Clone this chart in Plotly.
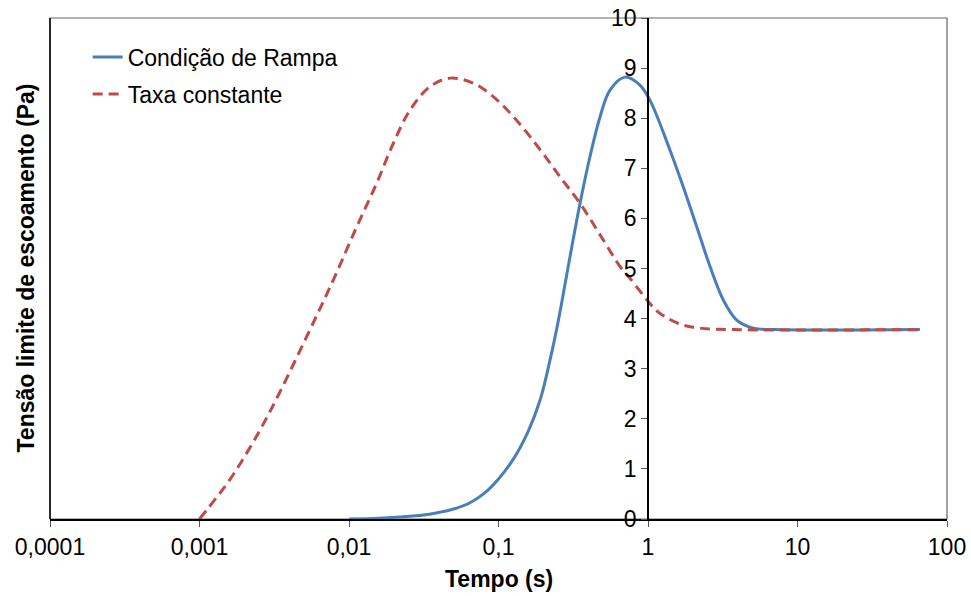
import plotly.graph_objects as go

# Data
tempo_rampa = [0.01, 0.0158, 0.0219, 0.0316, 0.0398, 0.0501, 0.0631, 0.0794, 0.100, 0.126,
               0.158, 0.190, 0.221, 0.251, 0.301, 0.351, 0.409, 0.478, 0.557, 0.701,
               0.883, 1.03, 1.40, 1.72, 2.12, 2.60, 3.19, 3.92, 5.07, 7.08, 65.9]
tensao_rampa = [0.0, 0.015, 0.04, 0.08, 0.13, 0.20, 0.31, 0.50, 0.80, 1.20,
                1.75, 2.38, 3.17, 3.95, 5.24, 6.30, 7.23, 8.03, 8.56, 8.82,
                8.66, 8.36, 7.37, 6.63, 5.83, 5.04, 4.37, 3.97, 3.81, 3.78, 3.78]

tempo_taxa = [0.001, 0.0013, 0.0016, 0.00218, 0.00304, 0.00521, 0.00785, 0.01125, 0.0153,
              0.0198, 0.0256, 0.0348, 0.0474, 0.0679, 0.0923, 0.132, 0.190, 0.258, 0.351,
              0.502, 0.650, 0.760, 1.03, 1.15, 1.33, 1.72, 2.23, 3.72, 65.9]
tensao_taxa = [0.0, 0.43, 0.79, 1.43, 2.21, 3.64, 4.77, 5.83, 6.70,
               7.50, 8.16, 8.63, 8.80, 8.70, 8.43, 7.96, 7.37, 6.83, 6.30,
               5.57, 5.04, 4.80, 4.30, 4.15, 4.02, 3.87, 3.81, 3.78, 3.78]

x_tickvals = [0.0001, 0.001, 0.01, 0.1, 1, 10, 100]
x_ticktext = ["0,0001", "0,001", "0,01", "0,1", "1", "10", "100"]
y_tickvals = [0, 1, 2, 3, 4, 5, 6, 7, 8, 9, 10]

series_names = ["Condição de Rampa", "Taxa constante"]
x_title = "Tempo (s)"
y_title = "Tensão limite de escoamento (Pa)"

FONT = "Liberation Sans, Arial, sans-serif"

fig = go.Figure()
fig.add_trace(go.Scatter(
    x=tempo_rampa, y=tensao_rampa, mode="lines", name=series_names[0],
    line=dict(color="#4A7EBB", width=3, shape="spline", smoothing=1.0),
    legendgroup="a"))
fig.add_trace(go.Scatter(
    x=tempo_taxa, y=tensao_taxa, mode="lines", name=series_names[1],
    line=dict(color="#BE4B48", width=3, dash="10px,6px", shape="spline", smoothing=1.0),
    legendgroup="b"))

fig.update_layout(
    width=971, height=596,
    margin=dict(l=50, r=24, t=18, b=77, autoexpand=False),
    paper_bgcolor="white", plot_bgcolor="white",
    font=dict(family=FONT, size=23, color="black"),
    showlegend=True,
    legend=dict(x=0.042, y=0.965, xanchor="left", yanchor="top",
                bgcolor="rgba(0,0,0,0)", font=dict(size=23),
                tracegroupgap=4, itemwidth=30),
    xaxis=dict(type="log", range=[-4, 2], tickvals=x_tickvals, ticktext=x_ticktext,
               showgrid=False, zeroline=False, showline=True, linecolor="black",
               linewidth=2, ticks="outside", ticklen=6, tickcolor="#555",
               tickfont=dict(size=23), domain=[0, 1], automargin=False),
    yaxis=dict(range=[0, 10], tickvals=y_tickvals, showgrid=False, zeroline=False,
               showline=True, linecolor="black", linewidth=1.5, ticks="outside",
               ticklen=6, tickcolor="#555", tickfont=dict(size=23),
               anchor="free", position=4 / 6, side="left", automargin=False),
    shapes=[
        dict(type="rect", xref="paper", yref="paper", x0=0, x1=1, y0=0, y1=1,
             line=dict(color="#666", width=1.2), layer="below"),
        dict(type="line", xref="paper", yref="paper", x0=0, x1=0, y0=0, y1=1,
             line=dict(color="black", width=1.5)),
    ],
    annotations=[
        dict(text="<b>" + x_title + "</b>", xref="paper", yref="paper",
             x=0.5, y=(519 - 579) / 501, xanchor="center", yanchor="middle",
             showarrow=False, font=dict(size=23)),
        dict(text="<b>" + y_title + "</b>", xref="paper", yref="paper",
             x=(25 - 50) / 897, y=0.5, xanchor="center", yanchor="middle",
             textangle=-90, showarrow=False, font=dict(size=23)),
    ],
)

fig.write_html("out.html")
